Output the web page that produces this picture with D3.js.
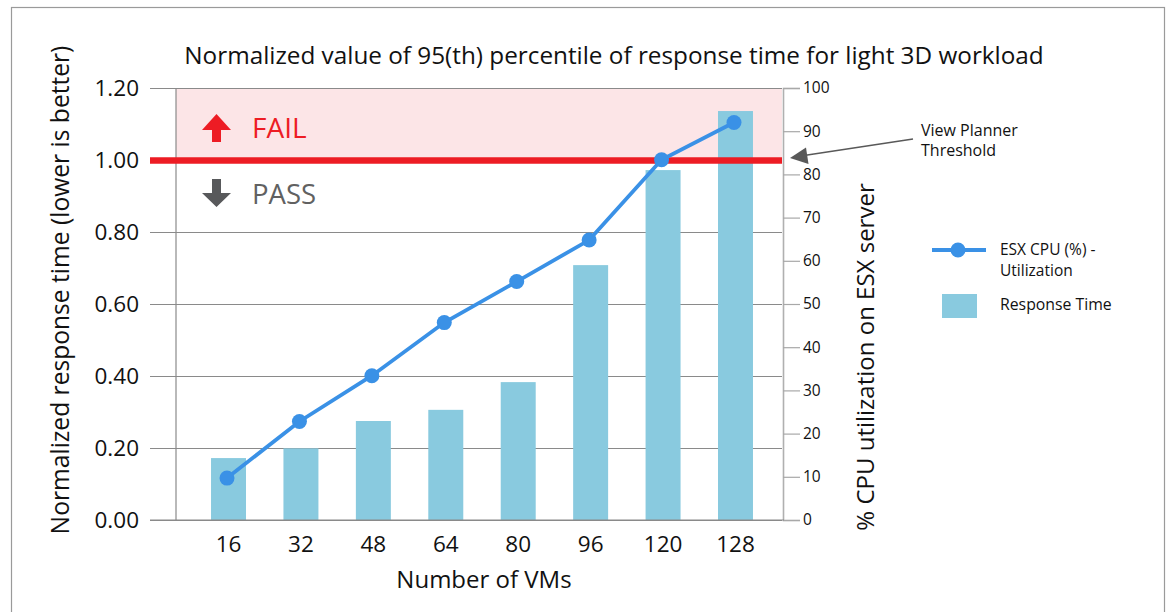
<!DOCTYPE html>
<html>
<head>
<meta charset="utf-8">
<script src="https://cdn.jsdelivr.net/npm/d3@7"></script>
<style>
  html, body { margin: 0; padding: 0; background: #fff; }
  svg { display: block; }
  text { font-family: "Open Sans", "Noto Sans", sans-serif; fill: #111; }
</style>
</head>
<body>
<svg id="chart" width="1170" height="612"></svg>
<script>
const categories = ["16", "32", "48", "64", "80", "96", "120", "128"];
const responseTime = [0.172, 0.199, 0.275, 0.306, 0.383, 0.708, 0.972, 1.136];
const cpuUtil = [9.7, 22.8, 33.4, 45.7, 55.2, 64.8, 83.4, 92.0];
const leftTicks = [0, 0.2, 0.4, 0.6, 0.8, 1.0, 1.2];
const rightTicks = [0, 10, 20, 30, 40, 50, 60, 70, 80, 90, 100];
const threshold = 1.0;

const title = "Normalized value of 95(th) percentile of response time for light 3D workload";
const leftTitle = "Normalized response time (lower is better)";
const rightTitle = "% CPU utilization on ESX server";
const xTitle = "Number of VMs";
const legendLine = ["ESX CPU (%) -", "Utilization"];
const legendBar = "Response Time";
const annotation = ["View Planner", "Threshold"];

const FONT = '"Open Sans", "Noto Sans", sans-serif';
const svg = d3.select("#chart");

// outer border
svg.append("rect").attr("x", 11.5).attr("y", 7.5).attr("width", 1153).attr("height", 620)
  .attr("fill", "none").attr("stroke", "#9a9a9a").attr("stroke-width", 1.2);

const plotL = 176, plotR = 782, plotT = 88, plotB = 520, gridL = 150;

const x = d3.scaleBand().domain(categories).range([192.3, 771.7])
  .paddingInner(0.517).paddingOuter(0.2585);
const yL = d3.scaleLinear().domain([0, 1.2]).range([plotB, plotT]);
const yR = d3.scaleLinear().domain([0, 100]).range([plotB, plotT]);

// fail band
svg.append("rect").attr("x", plotL).attr("y", yL(1.2))
  .attr("width", plotR - plotL).attr("height", yL(threshold) - yL(1.2))
  .attr("fill", "#fce5e7");

// left axis with gridlines
const leftAxis = d3.axisLeft(yL).tickValues(leftTicks).tickFormat(d3.format(".2f"))
  .tickSize(-(plotR - gridL)).tickPadding(11);
const gL = svg.append("g").attr("transform", `translate(${gridL},0)`).call(leftAxis);
gL.select(".domain").remove();
gL.selectAll(".tick line").attr("stroke", "#8a8a8a").attr("stroke-width", 1.2);
gL.selectAll(".tick text").attr("x", -11).style("font-size", "22.5px").style("font-family", FONT).attr("fill", "#111");

// left vertical axis line
svg.append("line").attr("x1", plotL).attr("x2", plotL).attr("y1", plotT).attr("y2", plotB)
  .attr("stroke", "#8a8a8a").attr("stroke-width", 1.2);

// right axis
const rightAxis = d3.axisRight(yR).tickValues(rightTicks).tickSize(17).tickPadding(3);
const gR = svg.append("g").attr("transform", `translate(${plotR + 1},0)`).call(rightAxis);
gR.select(".domain").attr("stroke", "#b0b0b0").attr("stroke-width", 1.6);
gR.selectAll(".tick line").attr("stroke", "#a8a8a8").attr("stroke-width", 1.2);
gR.selectAll(".tick text").style("font-size", "15.5px").style("font-family", FONT).attr("fill", "#111");

// bars
svg.append("g").selectAll("rect").data(categories).join("rect")
  .attr("x", d => x(d)).attr("width", x.bandwidth())
  .attr("y", (d, i) => yL(responseTime[i]))
  .attr("height", (d, i) => plotB - yL(responseTime[i]))
  .attr("fill", "#89cadf");

// threshold line
svg.append("line").attr("x1", gridL).attr("x2", plotR).attr("y1", yL(threshold) + 0.6).attr("y2", yL(threshold) + 0.6)
  .attr("stroke", "#ed1c24").attr("stroke-width", 6.5);

// zero line
svg.append("line").attr("x1", gridL).attr("x2", plotR + 2).attr("y1", plotB).attr("y2", plotB)
  .attr("stroke", "#8a8a8a").attr("stroke-width", 1.2);

// x axis labels
const xAxis = d3.axisBottom(x).tickSize(0).tickPadding(16);
const gX = svg.append("g").attr("transform", `translate(0,${plotB})`).call(xAxis);
gX.select(".domain").remove();
gX.selectAll(".tick text").style("font-size", "22.5px").style("font-family", FONT).attr("fill", "#111");

// cpu line
const cx = (d) => x(d) + x.bandwidth() / 2 - 1.5;
const line = d3.line().x((d, i) => cx(categories[i])).y(d => yR(d));
svg.append("path").datum(cpuUtil).attr("d", line)
  .attr("fill", "none").attr("stroke", "#3a91e6").attr("stroke-width", 3.8);
svg.append("g").selectAll("circle").data(cpuUtil).join("circle")
  .attr("cx", (d, i) => cx(categories[i])).attr("cy", d => yR(d)).attr("r", 7.5)
  .attr("fill", "#3a91e6");

// FAIL / PASS
svg.append("path").attr("d", "M216.5,114 L231,130 L221,130 L221,142 L212,142 L212,130 L202,130 Z").attr("fill", "#ed1c24");
svg.append("text").attr("x", 252).attr("y", 138).style("font-size", "28px").style("fill", "#ed1c24").text("FAIL");
svg.append("path").attr("d", "M216.5,207 L231,193 L221,193 L221,179 L212,179 L212,193 L202,193 Z").attr("fill", "#58595b");
svg.append("text").attr("x", 252).attr("y", 204).style("font-size", "27.5px").style("fill", "#616161").text("PASS");

// title
svg.append("text").attr("x", 614).attr("y", 64).attr("text-anchor", "middle")
  .style("font-size", "24.3px").text(title);

// axis titles
svg.append("text").attr("transform", "translate(69,290) rotate(-90)").attr("text-anchor", "middle")
  .style("font-size", "24.6px").text(leftTitle);
svg.append("text").attr("transform", "translate(874,357) rotate(-90)").attr("text-anchor", "middle")
  .style("font-size", "24px").text(rightTitle);
svg.append("text").attr("x", 484).attr("y", 588).attr("text-anchor", "middle")
  .style("font-size", "24px").text(xTitle);

// annotation
svg.append("text").attr("x", 921).attr("y", 136).style("font-size", "16px").text(annotation[0]);
svg.append("text").attr("x", 921).attr("y", 156).style("font-size", "16px").text(annotation[1]);
svg.append("line").attr("x1", 913).attr("y1", 139).attr("x2", 804).attr("y2", 155.5)
  .attr("stroke", "#595959").attr("stroke-width", 1.6);
svg.append("path").attr("d", "M790,158 L806,147.5 L808.5,164 Z").attr("fill", "#595959");

// legend
svg.append("line").attr("x1", 932).attr("x2", 986).attr("y1", 250).attr("y2", 250)
  .attr("stroke", "#3a91e6").attr("stroke-width", 3.8);
svg.append("circle").attr("cx", 958).attr("cy", 250).attr("r", 7.5).attr("fill", "#3a91e6");
svg.append("text").attr("x", 1000).attr("y", 255).style("font-size", "15.5px").text(legendLine[0]);
svg.append("text").attr("x", 1000).attr("y", 276).style("font-size", "15.5px").text(legendLine[1]);
svg.append("rect").attr("x", 942).attr("y", 294).attr("width", 35).attr("height", 24).attr("fill", "#89cadf");
svg.append("text").attr("x", 1000).attr("y", 310).style("font-size", "15.8px").text(legendBar);
</script>
</body>
</html>
